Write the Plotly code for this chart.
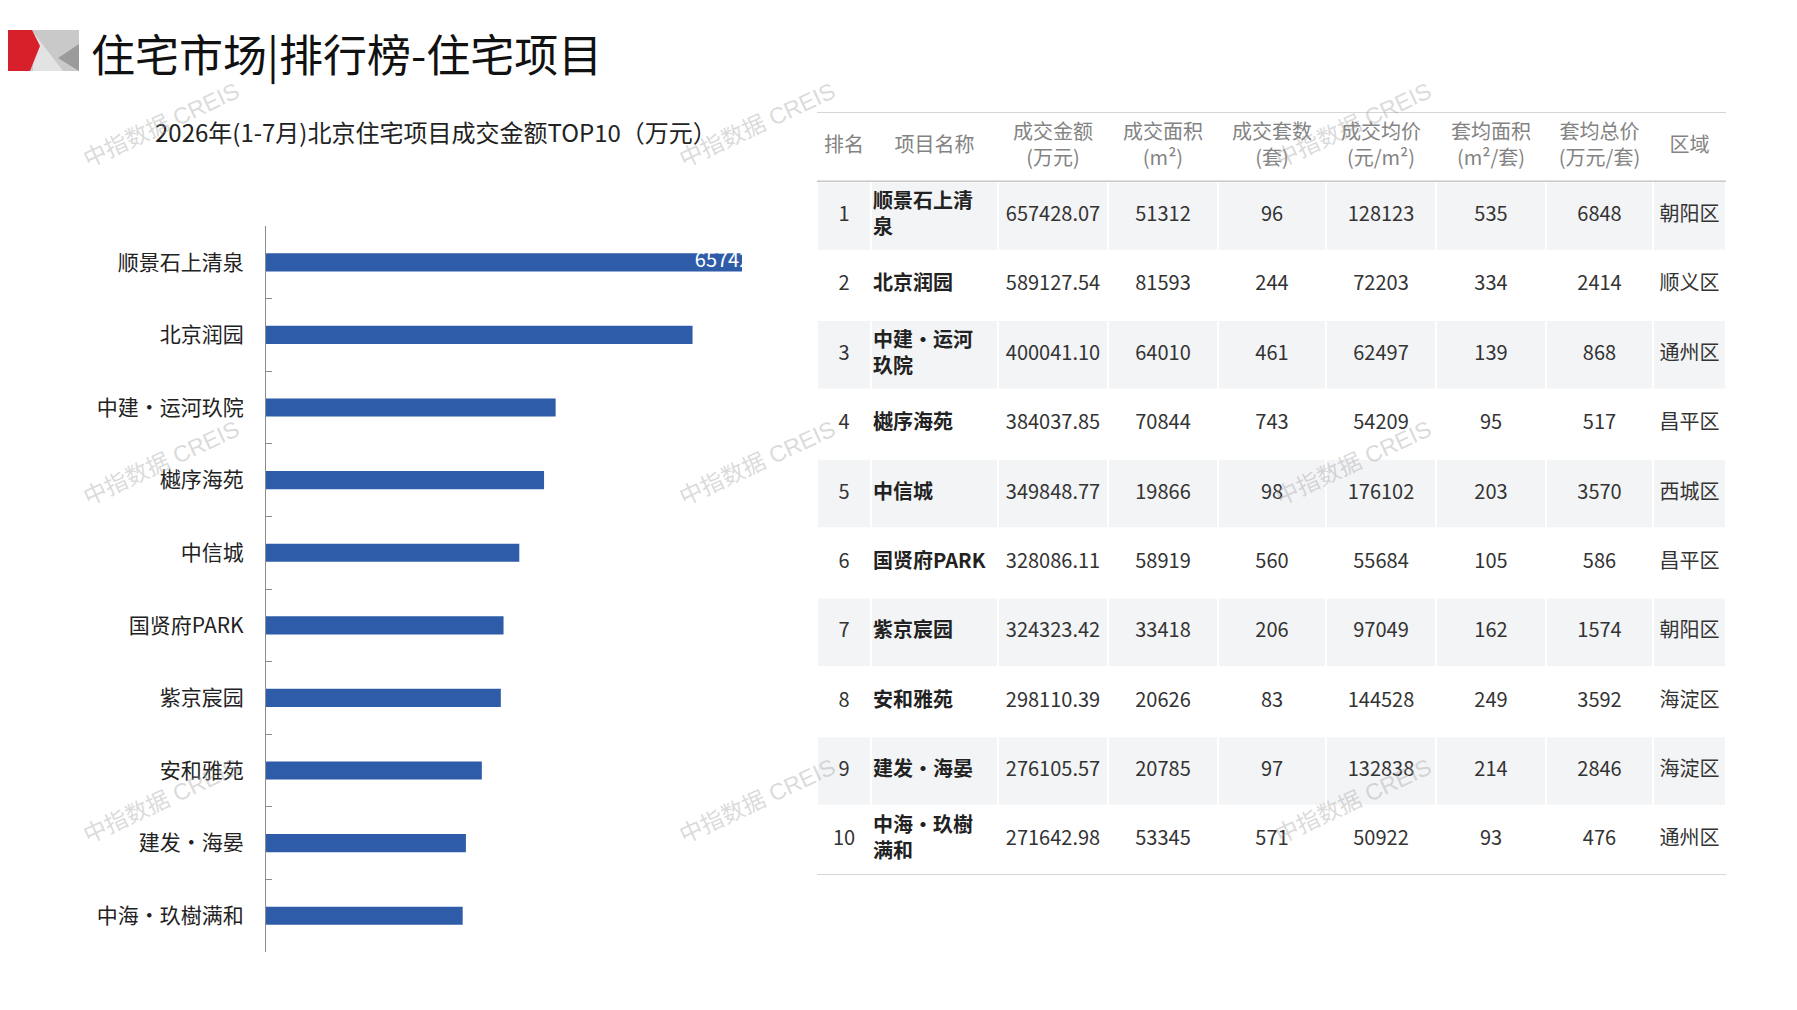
import plotly.graph_objects as go

W, H = 1797, 1010

# ---------------- data ----------------
ranks = [1, 2, 3, 4, 5, 6, 7, 8, 9, 10]
names = ["顺景石上清泉", "北京润园", "中建•运河玖院", "樾序海苑", "中信城",
         "国贤府PARK", "紫京宸园", "安和雅苑", "建发•海晏", "中海•玖樹满和"]
amounts = [657428.07, 589127.54, 400041.10, 384037.85, 349848.77,
           328086.11, 324323.42, 298110.39, 276105.57, 271642.98]
areas = [51312, 81593, 64010, 70844, 19866, 58919, 33418, 20626, 20785, 53345]
units = [96, 244, 461, 743, 98, 560, 206, 83, 97, 571]
avg_price = [128123, 72203, 62497, 54209, 176102, 55684, 97049, 144528, 132838, 50922]
avg_area = [535, 334, 139, 95, 203, 105, 162, 249, 214, 93]
avg_total = [6848, 2414, 868, 517, 3570, 586, 1574, 3592, 2846, 476]
districts = ["朝阳区", "顺义区", "通州区", "昌平区", "西城区",
             "昌平区", "朝阳区", "海淀区", "海淀区", "通州区"]
table_header = ["排名", "项目名称", "成交金额<br>(万元)", "成交面积<br>(m²)",
                "成交套数<br>(套)", "成交均价<br>(元/m²)", "套均面积<br>(m²/套)",
                "套均总价<br>(万元/套)", "区域"]

title_text = "住宅市场|排行榜-住宅项目"
subtitle_text = "2026年(1-7月)北京住宅项目成交金额TOP10（万元）"
watermark = "中指数据 CREIS"

# ---------------- style ----------------
FONT = "Noto Sans CJK SC, Noto Sans, sans-serif"
BAR = "#2F5CA8"
STRIPE = "#F3F4F6"
RULE = "#C8C8C8"
col_widths = [54, 127, 110, 110, 108, 110, 110, 107, 73]


def X(px):
    return px / W


def Y(py):
    return 1 - py / H


fig = go.Figure()

# ---------------- bar chart ----------------
fig.add_trace(go.Bar(
    x=amounts, y=names, orientation="h",
    marker=dict(color=BAR, line=dict(width=0)),
    width=0.25, hoverinfo="x+y", showlegend=False,
    xaxis="x", yaxis="y",
))
fig.add_trace(go.Scatter(
    x=[amounts[0]], y=[names[0]], mode="text",
    text=[f"{amounts[0]:.2f}"], textposition="middle center",
    textfont=dict(color="white", size=20, family=FONT),
    cliponaxis=True, hoverinfo="skip", showlegend=False,
    xaxis="x", yaxis="y",
))

# ---------------- table (drawn on its own axes) ----------------
edges = [0]
for w in col_widths:
    edges.append(edges[-1] + w)
centers = [(edges[i] + edges[i + 1]) / 2 for i in range(len(col_widths))]
total_w = edges[-1]
n_rows = len(ranks)
row_idx = [i + 1 for i in range(n_rows)]  # header is row 0


def wrap_name(s, n=5):
    wid = sum(0.6 if ord(c) < 128 else 1.0 for c in s)
    return s if wid <= 5.5 else s[:n] + "<br>" + s[n:]


# striped rows: one bar per cell of the odd ranked rows
sy, sx, sb = [], [], []
for r in row_idx:
    if r % 2 == 1:
        for c in range(len(col_widths)):
            sy.append(r)
            sx.append(col_widths[c])
            sb.append(edges[c])
fig.add_trace(go.Bar(
    x=sx, y=sy, base=sb, orientation="h", width=1,
    marker=dict(color=STRIPE, line=dict(color="white", width=2)),
    hoverinfo="skip", showlegend=False, xaxis="x2", yaxis="y2",
))

# header
fig.add_trace(go.Scatter(
    x=centers, y=[0] * len(centers), mode="text", text=table_header,
    textposition="middle center",
    textfont=dict(family=FONT, size=20, color="#838383"),
    hoverinfo="skip", showlegend=False, xaxis="x2", yaxis="y2",
))

body_cols = [
    [str(r) for r in ranks],
    None,
    [f"{a:.2f}" for a in amounts],
    [str(v) for v in areas],
    [str(v) for v in units],
    [str(v) for v in avg_price],
    [str(v) for v in avg_area],
    [str(v) for v in avg_total],
    districts,
]
for c, vals in enumerate(body_cols):
    if vals is None:
        continue
    fig.add_trace(go.Scatter(
        x=[centers[c]] * n_rows, y=row_idx, mode="text", text=vals,
        textposition="middle center",
        textfont=dict(family=FONT, size=20, color="#333333"),
        hoverinfo="skip", showlegend=False, xaxis="x2", yaxis="y2",
    ))
# project names, left aligned in their column
fig.add_trace(go.Scatter(
    x=[edges[1] + 2] * n_rows, y=row_idx, mode="text",
    text=["<b>" + wrap_name(n) + "</b>" for n in names],
    textposition="middle right",
    textfont=dict(family=FONT, size=20, color="#222222"),
    hoverinfo="skip", showlegend=False, xaxis="x2", yaxis="y2",
))

# ---------------- layout ----------------
OFF = 7
fig.update_layout(
    width=W, height=H,
    margin=dict(l=0, r=0, t=0, b=0),
    paper_bgcolor="white", plot_bgcolor="rgba(0,0,0,0)",
    font=dict(family=FONT),
    showlegend=False,
    xaxis=dict(domain=[X(265 - OFF), X(741 - OFF)], range=[0, amounts[0]],
               visible=False, showgrid=False, zeroline=False, fixedrange=True),
    yaxis=dict(domain=[Y(951 - OFF), Y(225 - OFF)], autorange="reversed",
               showline=True, linecolor="#8C8C8C", linewidth=1.3,
               ticks="inside", tickson="boundaries", ticklen=6,
               tickcolor="#8C8C8C", tickwidth=1.3,
               tickfont=dict(family=FONT, size=21, color="#222222"),
               ticklabelstandoff=17, showgrid=False, zeroline=False,
               fixedrange=True),
    xaxis2=dict(domain=[X(816 - OFF), X(1725 - OFF)], range=[0, total_w],
                visible=False, showgrid=False, zeroline=False, fixedrange=True),
    yaxis2=dict(domain=[Y(874 - OFF), Y(111 - OFF)], range=[n_rows + 0.5, -0.5],
                visible=False, showgrid=False, zeroline=False, fixedrange=True,
                anchor="x2"),
    bargap=0.75,
)
fig.update_layout(xaxis2_anchor="y2")


def path(pts):
    return "M " + " L ".join(f"{X(a)} {Y(b)}" for a, b in pts) + " Z"


shapes = []
# header icon
shapes.append(dict(type="path", xref="paper", yref="paper", line=dict(width=0),
                   fillcolor="#C9C9C9", path=path([(0, 22), (71, 22), (71, 63), (0, 63)])))
shapes.append(dict(type="path", xref="paper", yref="paper", line=dict(width=0),
                   fillcolor="#E3E3E3", path=path([(25, 24), (55, 63), (25, 63)])))
shapes.append(dict(type="path", xref="paper", yref="paper", line=dict(width=0),
                   fillcolor="#9B9B9B", path=path([(71, 36), (71, 63), (50, 50)])))
shapes.append(dict(type="path", xref="paper", yref="paper", line=dict(width=0),
                   fillcolor="#D7202A", path=path([(0, 22), (24, 22), (32, 38), (22, 63), (0, 63)])))
# table rules
for yv in (-0.5, 0.5, n_rows + 0.5):
    shapes.append(dict(type="line", xref="x2", yref="y2",
                       x0=0, x1=total_w, y0=yv, y1=yv,
                       line=dict(color=RULE, width=1.5)))
fig.update_layout(shapes=shapes)

ann = []
ann.append(dict(text=title_text, x=X(92 - 11), y=Y(52 - OFF), xref="paper", yref="paper",
                xanchor="left", yanchor="middle", showarrow=False,
                font=dict(family=FONT, size=44, color="#111111")))
ann.append(dict(text=subtitle_text, x=X(428), y=Y(130 - OFF), xref="paper", yref="paper",
                xanchor="center", yanchor="middle", showarrow=False,
                font=dict(family=FONT, size=24, color="#222222")))
for wy in (124, 462, 800):
    for wx in (160, 756, 1352):
        ann.append(dict(text=watermark, x=X(wx - OFF), y=Y(wy - OFF), xref="paper", yref="paper",
                        xanchor="center", yanchor="middle", showarrow=False,
                        textangle=-25,
                        font=dict(family="Liberation Sans, Noto Sans CJK SC, sans-serif",
                                  size=23, color="rgba(160,160,160,0.40)")))
fig.update_layout(annotations=ann)

fig.write_html("out.html")
